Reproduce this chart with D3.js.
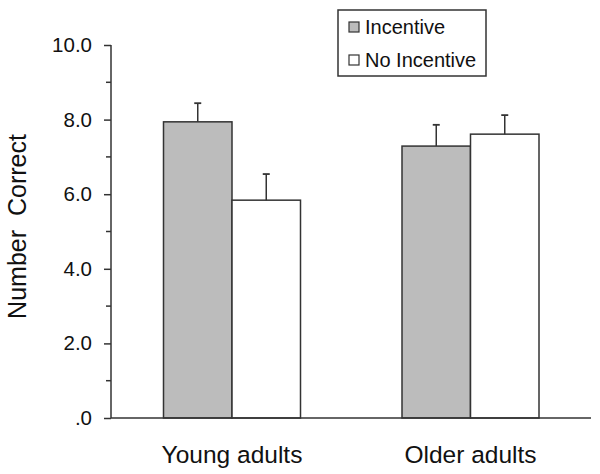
<!DOCTYPE html>
<html><head><meta charset="utf-8">
<script src="https://cdn.jsdelivr.net/npm/d3@7"></script>
<style>body{margin:0;background:#fff;} svg{display:block;font-family:"Liberation Sans",Arial,sans-serif;}</style>
</head><body><svg id="c" width="600" height="474"></svg>
<script>
const groups = ["Young adults", "Older adults"];
const series = ["Incentive", "No Incentive"];
const incentive = [7.94, 7.29];
const noIncentive = [5.84, 7.61];
const incentiveErr = [0.50, 0.57];
const noIncentiveErr = [0.70, 0.51];
const yTicks = [0, 2, 4, 6, 8, 10];
const yTickLabels = [".0", "2.0", "4.0", "6.0", "8.0", "10.0"];
const colors = ["#bcbcbc", "#ffffff"];

const values = [incentive, noIncentive];
const errs = [incentiveErr, noIncentiveErr];
const data = [];
groups.forEach((g, gi) => series.forEach((s, si) => data.push({g, s, v: values[si][gi], e: errs[si][gi], c: colors[si]})));

const svg = d3.select("#c");
const ink = "#333";
const y = d3.scaleLinear().domain([0, 10]).range([418, 45]);
const xc = d3.scalePoint().domain(groups).range([232, 470.5]);
const xs = d3.scaleBand().domain(series).range([-68.5, 68.5]);

// bars
svg.selectAll("rect.bar").data(data).enter().append("rect")
  .attr("x", d => xc(d.g) + xs(d.s))
  .attr("y", d => y(d.v))
  .attr("width", xs.bandwidth())
  .attr("height", d => y(0) - y(d.v))
  .attr("fill", d => d.c).attr("stroke", ink).attr("stroke-width", 1.5);

// error bars
const cx = d => xc(d.g) + xs(d.s) + xs.bandwidth() / 2;
svg.selectAll("line.err").data(data).enter().append("line")
  .attr("x1", cx).attr("x2", cx)
  .attr("y1", d => y(d.v)).attr("y2", d => y(d.v + d.e))
  .attr("stroke", ink).attr("stroke-width", 1.5);
svg.selectAll("line.cap").data(data).enter().append("line")
  .attr("x1", d => cx(d) - 3.5).attr("x2", d => cx(d) + 3.5)
  .attr("y1", d => y(d.v + d.e)).attr("y2", d => y(d.v + d.e))
  .attr("stroke", ink).attr("stroke-width", 1.8);

// y axis
const yAxis = d3.axisLeft(y).tickValues(yTicks).tickSize(7).tickPadding(12)
  .tickFormat((d, i) => yTickLabels[i]);
const ga = svg.append("g").attr("transform", "translate(111,0)").call(yAxis);
ga.select(".domain").attr("stroke", ink).attr("stroke-width", 1.5).attr("d", `M0,${y(10)}V${y(0)}`);
ga.selectAll(".tick line").attr("stroke", ink).attr("stroke-width", 1.5);
ga.selectAll(".tick text").attr("font-size", 20.5).attr("fill", "#111")
  .attr("font-family", "Liberation Sans, Arial, sans-serif");
const minor = d3.range(1, 10, 2);
svg.append("g").selectAll("line").data(minor).enter().append("line")
  .attr("x1", 106).attr("x2", 111).attr("y1", d => y(d)).attr("y2", d => y(d))
  .attr("stroke", ink).attr("stroke-width", 1.5);

// x axis
svg.append("line").attr("x1", 111).attr("x2", 591).attr("y1", y(0)).attr("y2", y(0))
  .attr("stroke", ink).attr("stroke-width", 1.5);
svg.selectAll("text.xl").data(groups).enter().append("text")
  .attr("x", d => xc(d)).attr("y", 463).attr("text-anchor", "middle")
  .attr("font-size", 24.5).attr("fill", "#111").text(d => d);

// y label
svg.append("text").attr("transform", "translate(26,226.5) rotate(-90)")
  .attr("text-anchor", "middle").attr("font-size", 25).attr("fill", "#111")
  .style("white-space", "pre").text("Number  Correct");

// legend
const lg = svg.append("g");
lg.append("rect").attr("x", 338).attr("y", 10).attr("width", 148).attr("height", 66)
  .attr("fill", "#fff").attr("stroke", ink).attr("stroke-width", 1.5);
const ly = [27, 60];
series.forEach((s, i) => {
  lg.append("rect").attr("x", 349).attr("y", ly[i] - 5).attr("width", 10).attr("height", 10)
    .attr("fill", colors[i]).attr("stroke", ink).attr("stroke-width", 1.2);
  lg.append("text").attr("x", 365).attr("y", ly[i] + 7).attr("font-size", 20).attr("fill", "#111").text(s);
});
</script></body></html>
